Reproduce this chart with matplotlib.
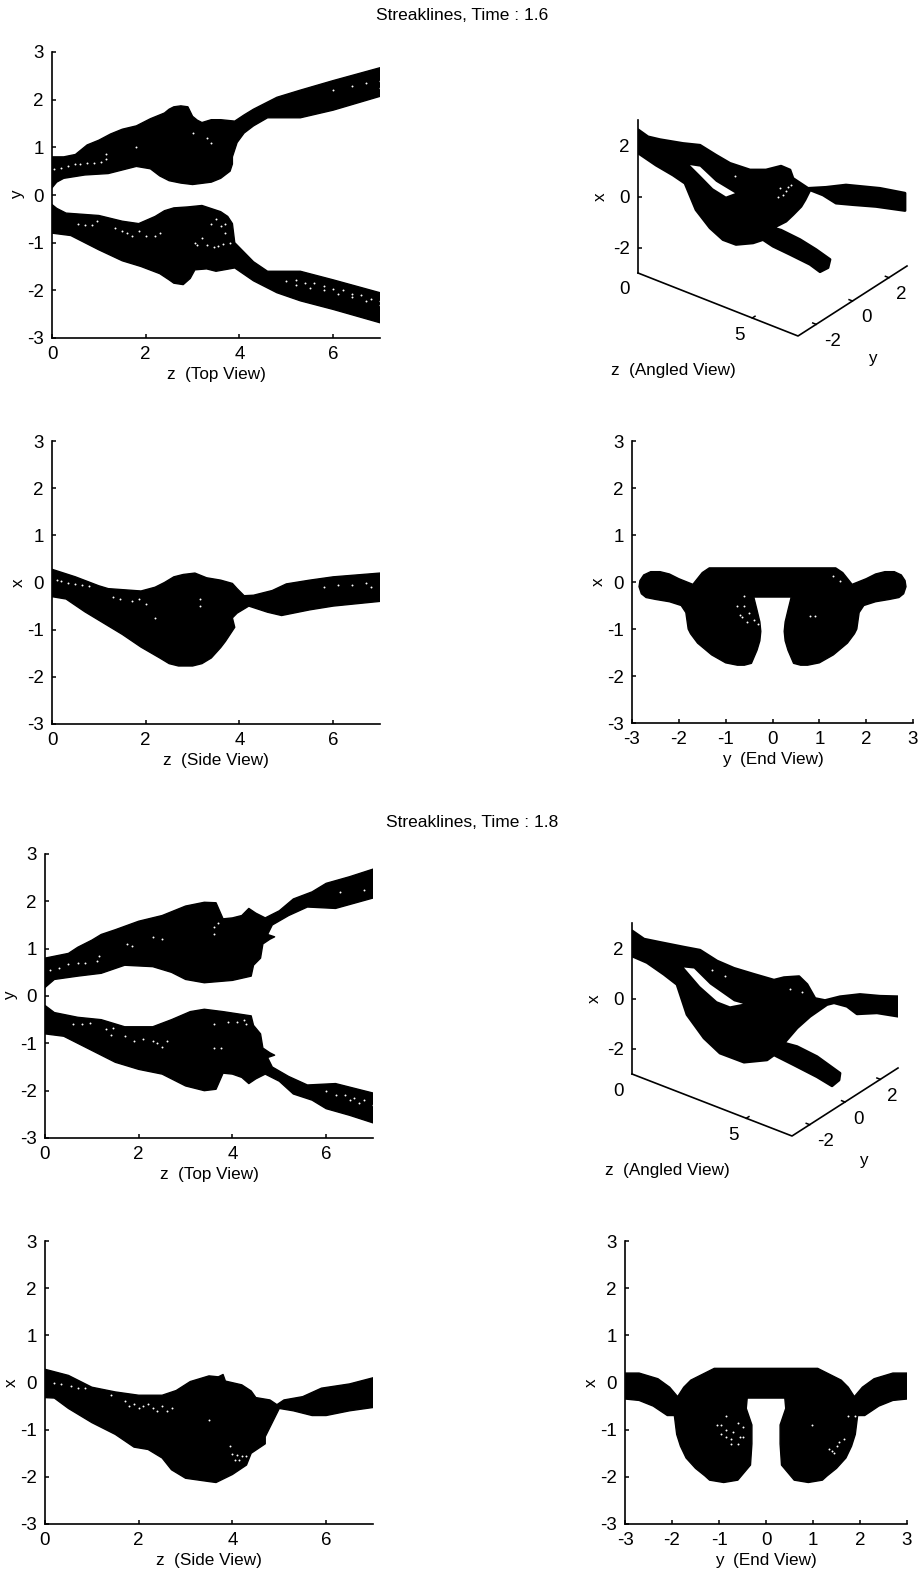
import matplotlib
matplotlib.use("Agg")
import matplotlib.pyplot as plt

W, H = 919, 1577
plt.rcParams['font.family'] = ['Liberation Sans', 'DejaVu Sans']
plt.rcParams['axes.unicode_minus'] = False

titles = ["Streaklines, Time : 1.6", "Streaklines, Time : 1.8"]

# Time 1.6, top view
top1_z_a = [0, .25, .5, .75, 1, 1.25, 1.5, 1.8, 2.1, 2.4, 2.5, 2.6, 2.75, 2.9, 3.0, 3.1, 3.2, 3.4, 3.6, 3.9, 4.1, 4.3, 4.8, 5.3, 6, 7]
top1_y_a = [.8, .8, .85, 1.05, 1.15, 1.28, 1.38, 1.45, 1.6, 1.72, 1.8, 1.85, 1.87, 1.85, 1.65, 1.57, 1.52, 1.58, 1.58, 1.55, 1.68, 1.8, 2.05, 2.2, 2.4, 2.67]
top1_z_b = [0, .1, .25, .7, 1.2, 1.6, 1.8, 2.1, 2.3, 2.5, 2.75, 3, 3.4, 3.6, 3.8, 3.85, 3.85, 3.95, 4.1, 4.3, 4.6, 5.3, 6, 7]
top1_y_b = [.15, .27, .35, .42, .45, .55, .6, .55, .4, .3, .25, .22, .27, .35, .5, .65, .8, 1.1, 1.3, 1.45, 1.62, 1.62, 1.78, 2.07]
top1_z_c = [0, .1, .3, 1, 1.5, 1.85, 2.2, 2.4, 2.6, 2.9, 3.2, 3.6, 3.75, 3.85, 3.9, 4.1, 4.3, 4.6, 5.3, 6, 7]
top1_y_c = [-.2, -.28, -.38, -.43, -.55, -.6, -.45, -.33, -.27, -.25, -.22, -.35, -.45, -.6, -1.0, -1.2, -1.4, -1.6, -1.6, -1.78, -2.05]
top1_z_d = [0, .4, .7, 1, 1.5, 1.9, 2.3, 2.5, 2.6, 2.8, 2.95, 3.05, 3.3, 3.5, 3.9, 4.3, 4.8, 5.3, 6, 7]
top1_y_d = [-.8, -.85, -1, -1.15, -1.38, -1.5, -1.65, -1.78, -1.85, -1.88, -1.75, -1.57, -1.55, -1.6, -1.53, -1.8, -2.05, -2.22, -2.4, -2.68]
top1_spk_z = [.05, .2, .35, .5, .6, .75, .9, 1.05, 1.15, 1.15, 1.8, 3.0, 3.3, 3.4, .55, .7, .85, .95, 1.35, 1.5, 1.6, 1.7, 1.85, 2, 2.2, 2.3,
              3.05, 3.1, 3.2, 3.3, 3.4, 3.5, 3.6, 3.7, 3.7, 3.45, 3.55, 3.65, 3.8, 5, 5.2, 5.4, 5.6, 5.8, 6, 6.2, 6.4, 6.6, 6.8, 7,
              5.2, 5.5, 5.8, 6.1, 6.4, 6.7, 7, 6, 6.4, 6.7, 7, 7]
top1_spk_y = [.55, .57, .6, .65, .65, .67, .68, .7, .75, .85, 1.0, 1.3, 1.2, 1.1, -.6, -.62, -.62, -.55, -.7, -.75, -.8, -.85, -.75, -.85, -.85, -.8,
              -1.0, -1.05, -.9, -1.05, -.6, -.5, -.65, -.6, -.8, -1.1, -1.07, -1.03, -1.0, -1.8, -1.78, -1.85, -1.85, -1.9, -1.98, -2, -2.07, -2.1, -2.18, -2.22,
              -1.88, -1.95, -2, -2.08, -2.15, -2.22, -2.3, 2.2, 2.28, 2.35, 2.4, 2.25]

# Time 1.6, side view
side1_z_a = [0, .5, 1, 1.2, 1.9, 2.2, 2.4, 2.6, 2.8, 3.05, 3.3, 3.6, 3.85, 3.95, 4.1, 4.3, 4.7, 5, 5.5, 6, 7]
side1_x_a = [.28, .12, -.07, -.13, -.18, -.1, 0, .12, .17, .2, .1, .05, -.02, -.13, -.28, -.27, -.17, -.03, .05, .12, .2]
side1_z_b = [0, .3, .7, 1, 1.5, 1.9, 2.3, 2.5, 2.7, 3, 3.2, 3.4, 3.6, 3.7, 3.9, 3.85, 3.95, 4.2, 4.6, 4.9, 5.5, 6, 7]
side1_x_b = [-.3, -.35, -.62, -.8, -1.1, -1.37, -1.6, -1.72, -1.77, -1.77, -1.72, -1.6, -1.38, -1.25, -.95, -.75, -.65, -.5, -.63, -.7, -.58, -.5, -.4]
side1_spk_z = [.1, .2, .35, .5, .65, .8, 1.3, 1.45, 1.7, 1.85, 2, 3.15, 3.15, 2.2, 5.8, 6.1, 6.4, 6.7, 6.8]
side1_spk_x = [.05, .03, 0, -.03, -.05, -.08, -.3, -.35, -.4, -.35, -.45, -.5, -.35, -.75, -.1, -.05, -.05, 0, -.1]

# Time 1.6, end view outline (right half, mirrored in y at draw time)
end1_y = [.4, .33, .27, .25, .27, .33, .45, .6, .75, 1.0, 1.3, 1.6, 1.75, 1.8, 1.85, 1.95, 2.2, 2.5, 2.7, 2.8, 2.85, 2.83, 2.75, 2.6, 2.4, 2.2, 2, 1.7, 1.62, 1.5, 1.35]
end1_x = [-.32, -.6, -.85, -1.05, -1.25, -1.45, -1.73, -1.77, -1.77, -1.72, -1.55, -1.3, -1.1, -1, -.65, -.5, -.42, -.37, -.33, -.25, -.1, .03, .15, .22, .22, .17, .07, -.05, .05, .2, .3]
end1_spk_y = [-.7, -.65, -.6, -.55, -.75, -.5, -.4, -.3, -.6, .8, .9, 1.3, 1.45]
end1_spk_x = [-.7, -.75, -.5, -.85, -.5, -.65, -.8, -.9, -.3, -.72, -.72, .13, .03]

# Time 1.6, angled view: screen position along the page, and height in x
ang1_u = [0, 10, 22, 45, 62, 78, 92, 112, 128, 143, 152, 155, 170, 188, 208, 242, 267, 267, 238, 215, 198, 185, 172, 167, 163, 155, 148, 135,
          143, 162, 178, 192, 190, 182, 172, 152, 135, 125, 115, 98, 85, 72, 58, 47, 35, 18, 0]
ang1_v = [2.62, 2.34, 2.23, 2.08, 2.01, 1.62, 1.3, 1.04, 1.04, 1.19, 1.04, .71, .32, .36, .45, .32, .13, -.55, -.39, -.32, -.26, .06, .26, -.13, -.39, -.71, -.97, -1.23,
          -1.32, -1.69, -2.08, -2.47, -2.79, -2.95, -2.66, -2.27, -1.95, -1.69, -1.82, -1.88, -1.69, -1.23, -.52, .52, .84, 1.23, 1.71]
ang1_hole_u = [52, 62, 78, 97, 88, 75, 62]
ang1_hole_v = [1.23, 1.17, .58, .13, 0, .32, .84]
ang1_spk_u = [142, 145, 150, 153, 140, 97, 148]
ang1_spk_v = [.32, .06, .39, .45, 0, .8, .2]

# Time 1.8, top view
top2_z_a = [0, .5, .7, 1, 1.2, 1.5, 2, 2.5, 3, 3.4, 3.65, 3.8, 4, 4.2, 4.35, 4.5, 4.7, 5, 5.3, 5.7, 6, 6.5, 7]
top2_y_a = [.8, .9, 1.03, 1.18, 1.3, 1.4, 1.58, 1.7, 1.9, 1.98, 1.97, 1.63, 1.65, 1.7, 1.85, 1.75, 1.65, 1.8, 2.05, 2.2, 2.38, 2.52, 2.68]
top2_z_b = [0, .2, .7, 1.2, 1.7, 2.3, 2.7, 3, 3.4, 4, 4.4, 4.45, 4.6, 4.65, 4.8, 4.9, 4.75, 4.85, 5.2, 5.6, 6.2, 7]
top2_y_b = [.18, .35, .42, .48, .65, .62, .5, .35, .28, .33, .42, .65, .8, 1.1, 1.2, 1.25, 1.3, 1.5, 1.7, 1.88, 1.85, 2.07]
top2_z_c = [0, .2, .7, 1.2, 1.7, 2.3, 2.7, 3.1, 3.4, 3.8, 4.4, 4.45, 4.6, 4.65, 4.8, 4.9, 4.75, 4.85, 5.2, 5.6, 6.2, 7]
top2_y_c = [-.2, -.35, -.45, -.5, -.65, -.65, -.5, -.33, -.28, -.33, -.42, -.62, -.8, -1.1, -1.2, -1.25, -1.3, -1.5, -1.7, -1.88, -1.85, -2.05]
top2_z_d = [0, .4, 1, 1.5, 2, 2.5, 3, 3.4, 3.65, 3.8, 4, 4.2, 4.35, 4.5, 4.7, 5, 5.3, 5.7, 6, 6.5, 7]
top2_y_d = [-.8, -.85, -1.15, -1.4, -1.55, -1.65, -1.9, -2, -1.97, -1.63, -1.65, -1.72, -1.85, -1.75, -1.65, -1.8, -2.07, -2.2, -2.38, -2.52, -2.68]
top2_spk_z = [.1, .3, .5, .7, .85, 1.1, 1.15, 1.75, 1.85, 2.3, 2.5, 3.6, 3.7, 3.6, .6, .8, .95, 1.3, 1.45, 1.4, 1.7, 1.9, 2.1, 2.3, 2.4, 2.5, 2.6,
              3.6, 3.9, 4.1, 4.25, 4.3, 3.6, 3.75, 6, 6.2, 6.4, 6.6, 6.8, 7, 6.5, 6.7, 6.3, 6.8]
top2_spk_y = [.55, .6, .67, .7, .7, .75, .85, 1.1, 1.05, 1.25, 1.2, 1.45, 1.55, 1.3, -.6, -.6, -.58, -.7, -.68, -.82, -.85, -.95, -.9, -.95, -1, -1.07, -.95,
              -.6, -.55, -.55, -.5, -.6, -1.1, -1.1, -2, -2.1, -2.1, -2.15, -2.2, -2.3, -2.2, -2.25, 2.2, 2.25]

# Time 1.8, side view
side2_z_a = [0, .5, 1, 1.5, 2, 2.5, 2.8, 3.1, 3.5, 3.7, 3.8, 3.85, 4.2, 4.4, 4.5, 4.8, 4.95, 5.1, 5.5, 5.9, 6.5, 7]
side2_x_a = [.28, .15, -.1, -.2, -.27, -.27, -.17, .02, .14, .12, .17, .03, -.05, -.18, -.32, -.37, -.47, -.37, -.3, -.12, -.03, .1]
side2_z_b = [0, .2, .5, 1, 1.5, 1.9, 2.2, 2.5, 2.7, 3, 3.5, 3.65, 4, 4.3, 4.4, 4.7, 4.7, 4.85, 5, 5.3, 5.7, 6, 6.5, 7]
side2_x_b = [-.32, -.33, -.55, -.85, -1.1, -1.37, -1.42, -1.6, -1.85, -2.03, -2.1, -2.12, -1.95, -1.75, -1.5, -1.3, -1.15, -.85, -.55, -.6, -.7, -.7, -.6, -.53]
side2_spk_z = [.2, .35, .55, .7, .85, 1.4, 1.7, 1.8, 1.9, 2, 2.1, 2.2, 2.3, 2.4, 2.5, 2.6, 2.7, 4, 4.1, 4.2, 4.3, 4.05, 4.15, 3.95, 3.5]
side2_spk_x = [0, -.03, -.07, -.12, -.12, -.27, -.4, -.5, -.45, -.55, -.5, -.45, -.55, -.6, -.5, -.6, -.55, -1.52, -1.53, -1.55, -1.55, -1.65, -1.65, -1.35, -.8]

# Time 1.8, end view outline (right half, mirrored in y at draw time)
end2_y = [.4, .42, .3, .3, .33, .6, .9, 1.2, 1.3, 1.5, 1.7, 1.82, 1.9, 1.95, 2.1, 2.4, 2.7, 3, 3, 2.7, 2.3, 2.05, 1.88, 1.75, 1.6, 1.3, 1.1]
end2_x = [-.33, -.55, -.9, -1.3, -1.75, -2.07, -2.12, -2.07, -1.98, -1.82, -1.6, -1.35, -1.1, -.7, -.7, -.5, -.38, -.35, .2, .2, .08, -.1, -.3, -.1, .05, .2, .3]
end2_spk_y = [-1.05, -.95, -.85, -.85, -.95, -.85, -.75, -.6, -.5, -.55, -.7, -.5, -.6, -.75, 1.4, 1.5, 1.55, 1.65, 1.45, 1.35, 1.75, 1.9, .97]
end2_spk_x = [-.9, -.9, -.7, -1, -1.1, -1.15, -1.2, -.85, -.95, -1.15, -1.05, -1.15, -1.3, -1.3, -1.45, -1.35, -1.27, -1.2, -1.5, -1.4, -.7, -.7, -.9]

# Time 1.8, angled view
ang2_u = [0, 12, 28, 52, 68, 85, 102, 122, 142, 152, 167, 175, 183, 193, 208, 228, 248, 267, 267, 245, 225, 215, 202, 195, 178, 165, 152, 165, 185, 208, 207, 200,
          185, 162, 142, 135, 112, 88, 72, 55, 45, 32, 15, 0]
ang2_v = [2.69, 2.36, 2.23, 2.04, 1.92, 1.49, 1.2, .96, .73, .83, .87, .56, 0, -.08, .07, .16, .09, .07, -.71, -.57, -.61, -.31, -.17, -.24, -.71, -1.17, -1.77, -1.91, -2.31, -2.97, -3.24, -3.47,
          -3.11, -2.64, -2.24, -2.44, -2.53, -2.17, -1.57, -.64, .56, .96, 1.43, 1.69]
ang2_hole_u = [52, 62, 78, 102, 111, 98, 85, 68]
ang2_hole_v = [1.23, 1.19, .56, -.11, -.21, -.31, -.11, .49]
ang2_spk_u = [93, 80, 170, 158]
ang2_spk_v = [.89, 1.13, .25, .36]

z_ticks = [0, 2, 4, 6]
y_ticks = [-3, -2, -1, 0, 1, 2, 3]
ang_x_ticks = [-2, 0, 2]
ang_y_ticks = [-2, 0, 2]

TICK_FS = 13.5
LABEL_FS = 12.3

fig = plt.figure(figsize=(W / 100, H / 100), dpi=100)


def make_axes(left, right, top, bottom):
    return fig.add_axes([left / W, 1 - bottom / H, (right - left) / W, (bottom - top) / H])


def style(ax, xlim, xticks, xlabel, ylabel):
    ax.set_xlim(xlim)
    ax.set_ylim(-3, 3)
    ax.set_xticks(xticks)
    ax.set_yticks(y_ticks)
    for s in ['top', 'right']:
        ax.spines[s].set_visible(False)
    for s in ['left', 'bottom']:
        ax.spines[s].set_linewidth(1.2)
    ax.tick_params(direction='in', length=3, width=1.1, labelsize=TICK_FS, pad=6)
    ax.set_xlabel(xlabel, fontsize=LABEL_FS, labelpad=2.5)
    ax.set_ylabel(ylabel, fontsize=LABEL_FS, rotation=90, labelpad=1)


def blob(ax, a, b, lw=1.0):
    ax.fill(a, b, facecolor='black', edgecolor='black', lw=lw, joinstyle='round')


def band(ax, za, ya, zb, yb):
    blob(ax, list(za) + list(zb)[::-1], list(ya) + list(yb)[::-1])


def specks(ax, a, b):
    ax.plot(a, b, ls='none', marker='.', color='white', ms=2.8, mew=0)


def end_view(ax, ys, xs, spk_y, spk_x):
    right_y = list(ys)
    right_x = list(xs)
    left_y = [-v for v in ys][::-1]
    left_x = right_x[::-1]
    blob(ax, left_y + right_y, left_x + right_x)
    specks(ax, spk_y, spk_x)


def angled(left, right, top, floor_mid, floor_end, u_vals, v_vals, hole_u, hole_v, spk_u, spk_v, bottom_px):
    # floor_mid / floor_end: far corners of the floor, in pixels from the left/bottom corner
    ux, uy = floor_mid
    vx, vy = floor_end
    unit = (bottom_px - top) / 6
    low = -3 - max(uy, vy + uy) / unit
    ax = make_axes(left, right, top, bottom_px + uy)
    ax.patch.set_alpha(0)
    ax.set_xlim(0, right - left)
    ax.set_ylim(low, 3)
    ax.set_xticks([])
    ax.set_yticks(ang_x_ticks)
    for s in ['top', 'right', 'bottom']:
        ax.spines[s].set_visible(False)
    ax.spines['left'].set_bounds(-3, 3)
    ax.spines['left'].set_linewidth(1.2)
    ax.tick_params(direction='in', length=3, width=1.1, labelsize=TICK_FS, pad=6)

    def floor(z, y):
        fz = z / 7
        fy = (y + 3) / 6
        return ux * fz + vx * fy, -3 - (uy * fz + vy * fy) / unit

    c0 = floor(0, -3)
    c1 = floor(7, -3)
    c2 = floor(7, 3)
    ax.plot([c0[0], c1[0], c2[0]], [c0[1], c1[1], c2[1]], color='black', lw=1.2, clip_on=False)

    t0 = floor(5, -3)
    t1 = floor(5, -2.85)
    ax.plot([t0[0], t1[0]], [t0[1], t1[1]], color='black', lw=1.1)
    ax.annotate("5", t0, xytext=(-13, -17), textcoords='offset pixels', ha='center', va='center', fontsize=TICK_FS)
    ax.annotate("0", c0, xytext=(-13, -17), textcoords='offset pixels', ha='center', va='center', fontsize=TICK_FS)
    offs = {-2: (16, -17), 0: (14, -17), 2: (12, -17)}
    for y in ang_y_ticks:
        a = floor(7, y)
        b = floor(6.85, y)
        ax.plot([a[0], b[0]], [a[1], b[1]], color='black', lw=1.1)
        ax.annotate(str(y), a, xytext=offs[y], textcoords='offset pixels', ha='center', va='center', fontsize=TICK_FS)

    blob(ax, u_vals, v_vals, lw=2.0)
    ax.fill(hole_u, hole_v, color='white', lw=0)
    specks(ax, spk_u, spk_v)

    ax.annotate("x", (0, 0), xytext=(-38, 0), textcoords='offset pixels', ha='center', va='center',
                fontsize=LABEL_FS, rotation=90)
    ax.annotate("y", c2, xytext=(-35, -92), textcoords='offset pixels', ha='center', va='center', fontsize=LABEL_FS)
    ax.annotate("z  (Angled View)", c1, xytext=(-125, -34), textcoords='offset pixels', ha='center', va='center', fontsize=LABEL_FS)
    return ax


# first group
fig.text(462 / W, 1 - 16 / H, titles[0], ha='center', va='center', fontsize=12.5)

ax = make_axes(52, 380, 52, 338)
band(ax, top1_z_a, top1_y_a, top1_z_b, top1_y_b)
band(ax, top1_z_c, top1_y_c, top1_z_d, top1_y_d)
specks(ax, top1_spk_z, top1_spk_y)
style(ax, (0, 7), z_ticks, "z  (Top View)", "y")

ax = make_axes(52, 380, 441, 724)
band(ax, side1_z_a, side1_x_a, side1_z_b, side1_x_b)
specks(ax, side1_spk_z, side1_spk_x)
style(ax, (0, 7), z_ticks, "z  (Side View)", "x")

ax = make_axes(632, 913, 441, 723)
end_view(ax, end1_y, end1_x, end1_spk_y, end1_spk_x)
style(ax, (-3, 3), y_ticks, "y  (End View)", "x")

angled(638, 907, 120, (160, 63), (109, -70), ang1_u, ang1_v, ang1_hole_u, ang1_hole_v, ang1_spk_u, ang1_spk_v, 273)

# second group
fig.text(472 / W, 1 - 823 / H, titles[1], ha='center', va='center', fontsize=12.5)

ax = make_axes(45, 373, 854, 1138)
band(ax, top2_z_a, top2_y_a, top2_z_b, top2_y_b)
band(ax, top2_z_c, top2_y_c, top2_z_d, top2_y_d)
specks(ax, top2_spk_z, top2_spk_y)
style(ax, (0, 7), z_ticks, "z  (Top View)", "y")

ax = make_axes(45, 373, 1241, 1524)
band(ax, side2_z_a, side2_x_a, side2_z_b, side2_x_b)
specks(ax, side2_spk_z, side2_spk_x)
style(ax, (0, 7), z_ticks, "z  (Side View)", "x")

ax = make_axes(625, 907, 1241, 1524)
end_view(ax, end2_y, end2_x, end2_spk_y, end2_spk_x)
style(ax, (-3, 3), y_ticks, "y  (End View)", "x")

angled(632, 898, 923, (160, 62), (106, -68), ang2_u, ang2_v, ang2_hole_u, ang2_hole_v, ang2_spk_u, ang2_spk_v, 1074)

fig.savefig("out.png", dpi=100)
